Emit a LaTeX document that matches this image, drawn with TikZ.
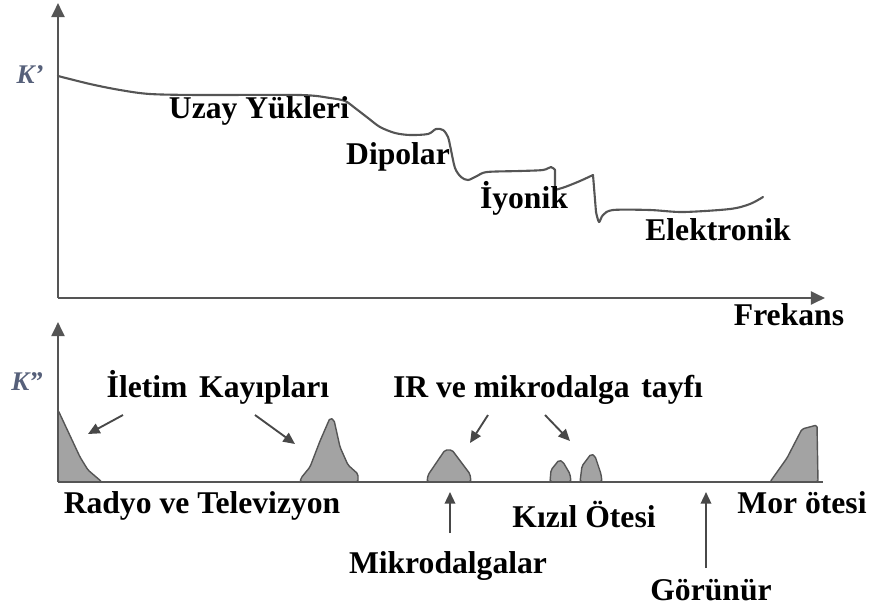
\documentclass[tikz,border=0pt]{standalone}
\usepackage{fontspec}
\setmainfont{Liberation Serif}
\usetikzlibrary{arrows.meta}
\definecolor{axisgray}{HTML}{555555}
\definecolor{peakfill}{HTML}{A3A3A3}
\definecolor{klabel}{HTML}{56607A}
\begin{document}
\begin{tikzpicture}[x=0.03cm,y=-0.03cm,
  axis/.style={draw=axisgray,line width=2pt},
  curve/.style={draw=axisgray,line width=1.8pt,line join=round,line cap=round},
  peak/.style={fill=peakfill,draw=axisgray,line width=1.2pt,line join=round,rounded corners=1.5pt},
  lbl/.style={font=\fontsize{27}{29}\selectfont\bfseries,inner sep=0pt,anchor=base},
  klbl/.style={font=\fontsize{23}{26}\selectfont\bfseries\itshape,text=klabel,inner sep=0pt,anchor=base},
  pointer/.style={draw=axisgray!85!black,line width=1.6pt,-{Triangle[length=10pt,width=9pt]}},
  bigtip/.style={-{Triangle[length=12pt,width=11pt]}}]

\useasboundingbox (0,0) rectangle (869,610);

% ---------- upper panel: real part K' ----------
\coordinate (o1) at (58,298);
\coordinate (y1) at (58,3);
\coordinate (x1) at (825,298);
\draw[axis,bigtip] (o1) -- (y1);
\draw[axis,bigtip] (o1) -- (x1);

\draw[curve] plot[smooth,tension=0.5] coordinates {
  (58,76) (90,84) (120,90) (150,94) (200,95) (300,95) (330,98) (345,101)
  (355,108) (368,118) (380,127) (395,133) (410,135) (428,134) (436,129)
  (443,130) (448,137) (451,150) (455,168) (461,177) (468,180) (477,176)
  (487,172) (520,171) (543,170) (551,167) (555,170)}
  -- plot[smooth,tension=0.5] coordinates {
  (555,190) (565,187) (580,181) (593,175)}
  -- plot[smooth,tension=0.5] coordinates {
  (596,212) (599,222) (603,215) (613,210) (650,210) (683,212) (730,209)
  (750,204) (763,197)};

\node[klbl] (kp) at (30,83) {K'};
\node[lbl] (uzay) at (259,118) {Uzay Yükleri};
\node[lbl] (dip) at (398,164) {Dipolar};
\node[lbl] (iyon) at (524,208) {İyonik};
\node[lbl] (elek) at (718,240) {Elektronik};
\node[lbl] (frek) at (789,325) {Frekans};

% ---------- lower panel: loss K'' ----------
\coordinate (o2) at (58,482);
\coordinate (y2) at (58,322);
\coordinate (x2) at (823,482);

\draw[peak] (58,482) -- (58,410) -- (80,457) -- (88,470) -- (102,482) -- cycle;
\draw[peak] (300,482) -- (301,478) -- (310,467) -- (320,441) -- (330,418)
  -- (334,420) -- (340,447) -- (348,465) -- (358,474) -- (358,482) -- cycle;
\draw[peak] (427,482) -- (428,475) -- (445,450) -- (452,450) -- (470,474) -- (471,482) -- cycle;
\draw[peak] (550,482) -- (551,470) -- (559,460) -- (563,462) -- (570,474) -- (571,482) -- cycle;
\draw[peak] (580,482) -- (582,466) -- (591,454) -- (595,456) -- (601,474) -- (602,482) -- cycle;
\draw[peak] (770,482) -- (787,458) -- (802,429) -- (817,425) -- (818,482) -- cycle;

\draw[axis,bigtip] (o2) -- (y2);
\draw[axis] (o2) -- (x2);

\node[klbl] (kpp) at (27,390) {K''};
\node[lbl] (ilet) at (218,397) {İletim\hspace{0.12em} Kayıpları};
\node[lbl] (irmw) at (548,397) {IR ve mikrodalga\hspace{0.12em} tayfı};
\node[lbl] (radyo) at (202,513) {Radyo ve Televizyon};
\node[lbl] (mor) at (802,513) {Mor ötesi};
\node[lbl] (kizil) at (584,527) {Kızıl Ötesi};
\node[lbl] (mikro) at (448,573) {Mikrodalgalar};
\node[lbl] (gor) at (711,600) {Görünür};

% pointers toward the loss peaks
\coordinate (p1s) at (123,415); \coordinate (p1e) at (88,434);
\coordinate (p2s) at (255,415); \coordinate (p2e) at (295,444);
\coordinate (p3s) at (488,415); \coordinate (p3e) at (470,443);
\coordinate (p4s) at (545,415); \coordinate (p4e) at (570,441);
\draw[pointer] (p1s) -- (p1e);
\draw[pointer] (p2s) -- (p2e);
\draw[pointer] (p3s) -- (p3e);
\draw[pointer] (p4s) -- (p4e);

% band markers under the axis
\coordinate (m1s) at (450,533); \coordinate (m1e) at (450,492);
\coordinate (m2s) at (706,568); \coordinate (m2e) at (706,492);
\draw[pointer] (m1s) -- (m1e);
\draw[pointer] (m2s) -- (m2e);
\end{tikzpicture}
\end{document}
